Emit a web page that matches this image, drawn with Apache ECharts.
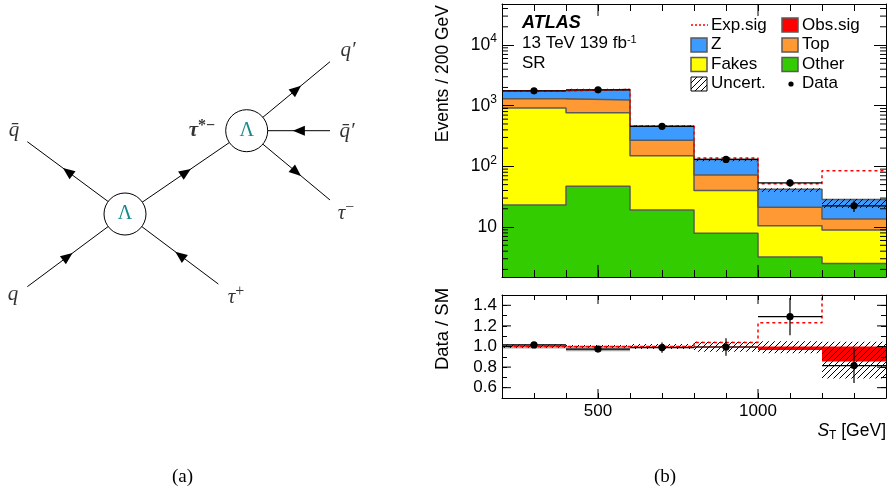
<!DOCTYPE html>
<html>
<head>
<meta charset="utf-8">
<script src="https://cdn.jsdelivr.net/npm/echarts@6/dist/echarts.min.js"></script>
<style>
html, body { margin: 0; padding: 0; background: #fff; }
#chart { width: 889px; height: 495px; }
</style>
</head>
<body>
<div id="chart"></div>
<script>
// ---- data ----
const binEdges = [200, 400, 600, 800, 1000, 1200, 1400];
const otherVals = [23, 47, 19, 7.9, 3.2, 2.5];
const fakesVals = [897, 718, 131, 32, 7.3, 6.4];
const topVals = [380, 475, 120, 32, 10.6, 4.6];
const zVals = [460, 610, 190, 58, 20.7, 14.9];
const expSigTotal = [1760, 1850, 461, 137, 51.5, 85];
const uncLo = [1720, 1800, 445, 122, 37.7, 20.6];
const uncHi = [1800, 1900, 475, 137, 43.7, 28.9];
const dataVals = [1760, 1830, 458, 130, 53.5, 22.4];
const dataErr = [42, 43, 21, 11.4, 7.3, 4.7];

const ratioVals = [1.015, 0.975, 0.99, 0.995, 1.29, 0.815];
const ratioErr = [0.025, 0.025, 0.05, 0.085, 0.18, 0.17];
const ratioBandLo = [0.985, 0.985, 0.975, 0.95, 0.935, 0.69];
const ratioBandHi = [1.02, 1.015, 1.025, 1.045, 1.05, 1.045];
const ratioGrayLo = [0.98, 0.955, null, null, null, null];
const ratioGrayHi = [1.02, 1.0, null, null, null, null];
const obsSigRatio = [0.995, 0.995, 0.993, 0.99, 0.965, 0.855];
const expSigRatio = [1.0, 1.0, 1.0, 1.04, 1.23, 3.0];

const logTicks = [10, 100, 1000, 10000];
const ratioLabels = [0.6, 0.8, 1.0, 1.2, 1.4];
const xLabels = [500, 1000];

// Feynman diagram (a), in page pixels
const feynVertices = [[125, 214], [246.7, 130.7]];
// x1, y1, x2, y2, arrow direction, radius at start, radius at end
const feynLegs = [
  [125, 214, 27.3, 141.7, 1, 21, 0],
  [125, 214, 27.3, 286.7, -1, 21, 0],
  [125, 214, 218.3, 284, -1, 21, 0],
  [125, 214, 246.7, 130.7, 1, 21, 21],
  [246.7, 130.7, 330, 61.7, 1, 21, 0],
  [246.7, 130.7, 330, 130.7, -1, 21, 0],
  [246.7, 130.7, 330, 200, 1, 21, 0]
];
const feynLabelPos = [[14, 130], [13, 294], [236, 297], [202, 131], [348, 50], [347, 131], [346, 213]];
const feynLabelText = ['{i|q̄}', '{i|q}', '{i|τ}{sup|+}', '{bi|τ}{bsup|*−}', '{i|q′}', '{i|q̄′}', '{i|τ}{sup|−}'];

const yMin = 1.5, yMax = 47500;
const rMin = 0.5, rMax = 1.5;
const SANS = 'Liberation Sans';
const SERIF = 'Liberation Serif';

const colZ = '#3d9bff', colTop = '#ff9933', colFakes = '#ffff00', colOther = '#33cc00';
const colObs = '#ff0000', outline = '#5a5a5a';

function makeHatch() {
  const c = document.createElement('canvas');
  c.width = 6; c.height = 6;
  const g = c.getContext('2d');
  g.strokeStyle = '#000'; g.lineWidth = 1;
  g.beginPath();
  g.moveTo(0, 6); g.lineTo(6, 0);
  g.moveTo(-1, 1); g.lineTo(1, -1);
  g.moveTo(5, 7); g.lineTo(7, 5);
  g.stroke();
  return c;
}
const hatch = { image: makeHatch(), repeat: 'repeat' };

// cumulative stack
const cum1 = otherVals.slice();
const cum2 = cum1.map((v, i) => v + fakesVals[i]);
const cum3 = cum2.map((v, i) => v + topVals[i]);
const cum4 = cum3.map((v, i) => v + zVals[i]);

function rows(bottoms, tops) {
  const out = [];
  for (let i = 0; i < 6; i++) {
    if (bottoms[i] == null || tops[i] == null) continue;
    out.push([binEdges[i], binEdges[i + 1], bottoms[i], tops[i]]);
  }
  return out;
}
function fillSeries(name, data, fill, xi, yi, z) {
  return {
    type: 'custom', name, xAxisIndex: xi, yAxisIndex: yi, z, silent: true, data,
    renderItem: function (params, api) {
      const p0 = api.coord([api.value(0), api.value(3)]);
      const p1 = api.coord([api.value(1), api.value(2)]);
      return { type: 'rect', shape: { x: p0[0], y: p0[1], width: p1[0] - p0[0], height: p1[1] - p0[1] }, style: { fill } };
    }
  };
}
function stepPoints(vals) {
  const pts = vals.map((v, i) => [binEdges[i], v]);
  pts.push([binEdges[6], vals[5]]);
  return pts;
}
function stepSeries(vals, color, width, type, xi, yi, z) {
  return {
    type: 'line', step: 'end', xAxisIndex: xi, yAxisIndex: yi, z, silent: true,
    data: stepPoints(vals), symbol: 'none',
    lineStyle: { color, width, type }
  };
}
function dataSeries(vals, errs, xi, yi) {
  const d = vals.map((v, i) => [binEdges[i], binEdges[i + 1], v, v - errs[i], v + errs[i]]);
  return {
    type: 'custom', xAxisIndex: xi, yAxisIndex: yi, z: 6, silent: true, data: d,
    renderItem: function (params, api) {
      const lo = api.value(0), hi = api.value(1), v = api.value(2);
      const c = (lo + hi) / 2;
      const a = api.coord([lo, v]), b = api.coord([hi, v]);
      const t = api.coord([c, api.value(4)]), bt = api.coord([c, api.value(3)]);
      const m = api.coord([c, v]);
      return { type: 'group', children: [
        { type: 'line', shape: { x1: a[0], y1: a[1], x2: b[0], y2: b[1] }, style: { stroke: '#000', lineWidth: 1.2 } },
        { type: 'line', shape: { x1: t[0], y1: t[1], x2: bt[0], y2: bt[1] }, style: { stroke: '#000', lineWidth: 1.2 } },
        { type: 'circle', shape: { cx: m[0], cy: m[1], r: 3.6 }, style: { fill: '#000' } }
      ] };
    }
  };
}
// extra ticks drawn on both sides of a frame
function tickSeries(values, vertical, len, xi, yi, ext) {
  return {
    type: 'custom', xAxisIndex: xi, yAxisIndex: yi, z: 8, silent: true,
    data: values.map(v => [v]),
    renderItem: function (params, api) {
      const v = api.value(0);
      let a, b, s1, s2;
      if (vertical) {
        a = api.coord([v, ext[0]]); b = api.coord([v, ext[1]]);
        s1 = { x1: a[0], y1: a[1], x2: a[0], y2: a[1] - len };
        s2 = { x1: b[0], y1: b[1], x2: b[0], y2: b[1] + len };
      } else {
        a = api.coord([ext[0], v]); b = api.coord([ext[1], v]);
        s1 = { x1: a[0], y1: a[1], x2: a[0] + len, y2: a[1] };
        s2 = { x1: b[0], y1: b[1], x2: b[0] - len, y2: b[1] };
      }
      return { type: 'group', children: [
        { type: 'line', shape: s1, style: { stroke: '#000', lineWidth: 1 } },
        { type: 'line', shape: s2, style: { stroke: '#000', lineWidth: 1 } }
      ] };
    }
  };
}
const logMinor = [];
[1, 10, 100, 1000, 10000].forEach(d => {
  for (let m = 2; m <= 9; m++) { const v = d * m; if (v > yMin && v < yMax) logMinor.push(v); }
});

const axisLine = { show: true, lineStyle: { color: '#000', width: 1 } };
function xAx(grid, pos, labels, tickLen) {
  return {
    type: 'value', gridIndex: grid, position: pos, min: 200, max: 1400, interval: 100, z: 7,
    axisLine, splitLine: { show: false },
    axisTick: { inside: true, length: tickLen, lineStyle: { color: '#000' } },
    axisLabel: labels ? {
      show: true, margin: 5, color: '#000', fontFamily: SANS, fontSize: 17,
      formatter: v => (xLabels.indexOf(v) >= 0 ? String(v) : '')
    } : { show: false }
  };
}
const supRich = {
  b: { fontFamily: SANS, fontSize: 17.5, color: '#000', lineHeight: 24 },
  s: { fontFamily: SANS, fontSize: 12, color: '#000', lineHeight: 16, verticalAlign: 'top' }
};
function logAx(pos, labels) {
  return {
    type: 'log', logBase: 10, gridIndex: 0, position: pos, min: yMin, max: yMax, z: 7,
    axisLine, splitLine: { show: false },
    axisTick: { inside: true, length: 12, lineStyle: { color: '#000' } },
    axisLabel: labels ? {
      show: true, margin: 5, rich: supRich,
      formatter: function (v) {
        const e = Math.round(Math.log10(v));
        if (logTicks.indexOf(Math.pow(10, e)) < 0 || Math.abs(Math.log10(v) - e) > 1e-6) return '';
        return e === 1 ? '{b|10}' : '{b|10}{s|' + e + '}';
      }
    } : { show: false }
  };
}
function ratioAx(pos, labels) {
  return {
    type: 'value', gridIndex: 1, position: pos, min: rMin, max: rMax, interval: 0.1, z: 7,
    axisLine, splitLine: { show: false },
    axisTick: { inside: true, length: 5, lineStyle: { color: '#000' } },
    axisLabel: labels ? {
      show: true, margin: 5, color: '#000', fontFamily: SANS, fontSize: 17,
      formatter: function (v) {
        const hit = ratioLabels.find(r => Math.abs(r - v) < 1e-6);
        return hit !== undefined ? hit.toFixed(1) : '';
      }
    } : { show: false }
  };
}

const option = {
  animation: false,
  backgroundColor: '#fff',
  grid: [
    { left: 502, top: 4, width: 384, height: 273 },
    { left: 502, top: 295, width: 384, height: 103 },
    { left: 0, top: 0, width: 440, height: 495 }
  ],
  xAxis: [
    xAx(0, 'bottom', false, 7), xAx(0, 'top', false, 7),
    xAx(1, 'bottom', true, 5), xAx(1, 'top', false, 5),
    { type: 'value', gridIndex: 2, min: 0, max: 440, show: false }
  ],
  yAxis: [
    logAx('left', true), logAx('right', false),
    ratioAx('left', true), ratioAx('right', false),
    { type: 'value', gridIndex: 2, min: 0, max: 495, inverse: true, show: false }
  ],
  series: [
    // top panel stack
    fillSeries('Other', rows(binEdges.map(() => yMin), cum1), colOther, 0, 0, 2),
    fillSeries('Fakes', rows(cum1, cum2), colFakes, 0, 0, 2),
    fillSeries('Top', rows(cum2, cum3), colTop, 0, 0, 2),
    fillSeries('Z', rows(cum3, cum4), colZ, 0, 0, 2),
    stepSeries(cum1, outline, 1.5, 'solid', 0, 0, 3),
    stepSeries(cum2, outline, 1.5, 'solid', 0, 0, 3),
    stepSeries(cum3, outline, 1.5, 'solid', 0, 0, 3),
    stepSeries(cum4, outline, 1.5, 'solid', 0, 0, 3),
    fillSeries('Uncert.', rows(uncLo, uncHi), hatch, 0, 0, 4),
    stepSeries(expSigTotal, colObs, 1.5, [3, 3], 0, 0, 5),
    dataSeries(dataVals, dataErr, 0, 0),
    tickSeries(logMinor, false, 6, 0, 0, [200, 1400]),
    tickSeries(xLabels, true, 12, 0, 0, [yMin, yMax]),
    // ratio panel
    fillSeries('gray', rows(ratioGrayLo, ratioGrayHi), '#a8a8a8', 2, 2, 2),
    fillSeries('Obs.sig', rows(obsSigRatio, binEdges.map(() => 1.0)), colObs, 2, 2, 3),
    fillSeries('Uncert. ratio', rows(ratioBandLo, ratioBandHi), hatch, 2, 2, 4),
    stepSeries(expSigRatio, colObs, 1.5, [3, 3], 2, 2, 5),
    dataSeries(ratioVals, ratioErr, 2, 2),
    tickSeries(ratioLabels, false, 9, 2, 2, [200, 1400]),
    tickSeries(xLabels, true, 9, 2, 2, [rMin, rMax]),
    // Feynman diagram
    {
      type: 'custom', xAxisIndex: 4, yAxisIndex: 4, z: 2, silent: true, data: feynLegs,
      renderItem: function (params, api) {
        const p1 = api.coord([api.value(0), api.value(1)]);
        const p2 = api.coord([api.value(2), api.value(3)]);
        const dir = api.value(4), r1 = api.value(5), r2 = api.value(6);
        const dx = p2[0] - p1[0], dy = p2[1] - p1[1], L = Math.hypot(dx, dy);
        const ux = dx / L, uy = dy / L;
        const s = (r1 + L - r2) / 2;
        const mx = p1[0] + ux * s, my = p1[1] + uy * s;
        const ax = ux * dir, ay = uy * dir, px = -ay, py = ax;
        const tip = [mx + ax * 6, my + ay * 6];
        const b1 = [mx - ax * 6 + px * 5, my - ay * 6 + py * 5];
        const b2 = [mx - ax * 6 - px * 5, my - ay * 6 - py * 5];
        return { type: 'group', children: [
          { type: 'line', shape: { x1: p1[0], y1: p1[1], x2: p2[0], y2: p2[1] }, style: { stroke: '#000', lineWidth: 1 } },
          { type: 'polygon', shape: { points: [tip, b1, b2] }, style: { fill: '#000' } }
        ] };
      }
    },
    {
      type: 'scatter', xAxisIndex: 4, yAxisIndex: 4, z: 3, silent: true, data: feynVertices,
      symbol: 'circle', symbolSize: 42,
      itemStyle: { color: '#fff', borderColor: '#000', borderWidth: 1, opacity: 1 },
      label: { show: true, position: 'inside', formatter: 'Λ', color: '#178a8a', fontFamily: SERIF, fontSize: 20 }
    },
    {
      type: 'scatter', xAxisIndex: 4, yAxisIndex: 4, z: 3, silent: true,
      data: feynLabelPos.map((p, i) => ({ value: p, label: { formatter: feynLabelText[i] } })),
      symbol: 'circle', symbolSize: 1, itemStyle: { color: 'rgba(0,0,0,0)' },
      label: {
        show: true, position: 'inside',
        rich: {
          i: { fontFamily: SERIF, fontStyle: 'italic', fontSize: 21, color: '#000', lineHeight: 26 },
          bi: { fontFamily: SERIF, fontStyle: 'italic', fontWeight: 'bold', fontSize: 21, color: '#000', lineHeight: 26 },
          sup: { fontFamily: SERIF, fontSize: 16, color: '#000', lineHeight: 18, verticalAlign: 'top' },
          bsup: { fontFamily: SERIF, fontWeight: 'bold', fontSize: 16, color: '#000', lineHeight: 18, verticalAlign: 'top' }
        }
      }
    }
  ],
  graphic: [
    // ATLAS label
    { type: 'text', x: 522, y: 23, z: 20, style: { text: 'ATLAS', fontFamily: SANS, fontWeight: 'bold', fontStyle: 'italic', fontSize: 18, fill: '#000', align: 'left', verticalAlign: 'middle' } },
    { type: 'text', x: 522, y: 43, z: 20, style: { text: '13 TeV 139 fb{s|-1}', fontFamily: SANS, fontSize: 17, fill: '#000', align: 'left', verticalAlign: 'middle',
      rich: { s: { fontFamily: SANS, fontSize: 11, fill: '#000', lineHeight: 14, verticalAlign: 'top' } } } },
    { type: 'text', x: 522, y: 63, z: 20, style: { text: 'SR', fontFamily: SANS, fontSize: 17, fill: '#000', align: 'left', verticalAlign: 'middle' } },
    // legend
    { type: 'line', z: 20, shape: { x1: 691, y1: 25, x2: 708, y2: 25 }, style: { stroke: colObs, lineWidth: 1.5, lineDash: [2, 2] } },
    { type: 'rect', z: 20, shape: { x: 691, y: 38, width: 16, height: 14 }, style: { fill: colZ, stroke: outline, lineWidth: 1.5 } },
    { type: 'rect', z: 20, shape: { x: 691, y: 57.5, width: 16, height: 14 }, style: { fill: colFakes, stroke: outline, lineWidth: 1.5 } },
    { type: 'rect', z: 20, shape: { x: 691, y: 77, width: 16, height: 14 }, style: { fill: hatch, stroke: '#000', lineWidth: 1 } },
    { type: 'rect', z: 20, shape: { x: 782, y: 18, width: 16, height: 14 }, style: { fill: colObs, stroke: outline, lineWidth: 1.5 } },
    { type: 'rect', z: 20, shape: { x: 782, y: 38, width: 16, height: 14 }, style: { fill: colTop, stroke: outline, lineWidth: 1.5 } },
    { type: 'rect', z: 20, shape: { x: 782, y: 57.5, width: 16, height: 14 }, style: { fill: colOther, stroke: outline, lineWidth: 1.5 } },
    { type: 'circle', z: 20, shape: { cx: 791, cy: 84, r: 2.6 }, style: { fill: '#000' } },
    { type: 'text', x: 711, y: 25, z: 20, style: { text: 'Exp.sig', fontFamily: SANS, fontSize: 17, fill: '#000', verticalAlign: 'middle' } },
    { type: 'text', x: 711, y: 44.5, z: 20, style: { text: 'Z', fontFamily: SANS, fontSize: 17, fill: '#000', verticalAlign: 'middle' } },
    { type: 'text', x: 711, y: 64, z: 20, style: { text: 'Fakes', fontFamily: SANS, fontSize: 17, fill: '#000', verticalAlign: 'middle' } },
    { type: 'text', x: 711, y: 83.5, z: 20, style: { text: 'Uncert.', fontFamily: SANS, fontSize: 17, fill: '#000', verticalAlign: 'middle' } },
    { type: 'text', x: 802, y: 25, z: 20, style: { text: 'Obs.sig', fontFamily: SANS, fontSize: 17, fill: '#000', verticalAlign: 'middle' } },
    { type: 'text', x: 802, y: 44.5, z: 20, style: { text: 'Top', fontFamily: SANS, fontSize: 17, fill: '#000', verticalAlign: 'middle' } },
    { type: 'text', x: 802, y: 64, z: 20, style: { text: 'Other', fontFamily: SANS, fontSize: 17, fill: '#000', verticalAlign: 'middle' } },
    { type: 'text', x: 802, y: 83.5, z: 20, style: { text: 'Data', fontFamily: SANS, fontSize: 17, fill: '#000', verticalAlign: 'middle' } },
    // axis titles
    { type: 'text', x: 443, y: 5, rotation: Math.PI / 2, z: 20, style: { text: 'Events / 200 GeV', fontFamily: SANS, fontSize: 17.5, fill: '#000', align: 'right', verticalAlign: 'middle' } },
    { type: 'text', x: 443, y: 329, rotation: Math.PI / 2, z: 20, style: { text: 'Data / SM', fontFamily: SANS, fontSize: 18.5, fill: '#000', align: 'center', verticalAlign: 'middle' } },
    { type: 'text', x: 886, y: 431, z: 20, style: { text: '{i|S}{sub|T} [GeV]', fontFamily: SANS, fontSize: 17.5, fill: '#000', align: 'right', verticalAlign: 'middle',
      rich: { i: { fontFamily: SANS, fontStyle: 'italic', fontSize: 17.5, fill: '#000', lineHeight: 22 },
              sub: { fontFamily: SANS, fontSize: 12, fill: '#000', lineHeight: 12, verticalAlign: 'bottom' } } } },
    // sub-figure captions
    { type: 'text', x: 182.5, y: 477, z: 20, style: { text: '(a)', fontFamily: SERIF, fontSize: 19, fill: '#000', align: 'center', verticalAlign: 'middle' } },
    { type: 'text', x: 665, y: 477, z: 20, style: { text: '(b)', fontFamily: SERIF, fontSize: 19, fill: '#000', align: 'center', verticalAlign: 'middle' } }
  ]
};

const chart = echarts.init(document.getElementById('chart'));
chart.setOption(option);
</script>
</body>
</html>
